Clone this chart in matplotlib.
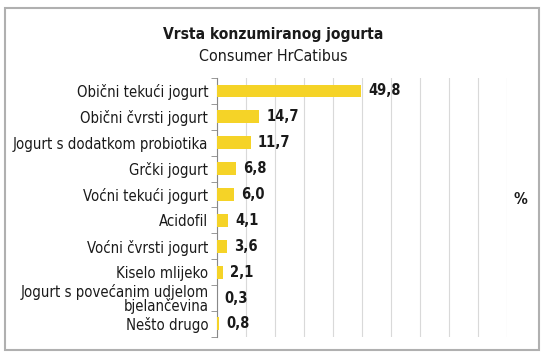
import matplotlib
matplotlib.use("Agg")
import matplotlib.pyplot as plt
from matplotlib.patches import Rectangle

# podaci
categories = [
    "Obični tekući jogurt",
    "Obični čvrsti jogurt",
    "Jogurt s dodatkom probiotika",
    "Grčki jogurt",
    "Voćni tekući jogurt",
    "Acidofil",
    "Voćni čvrsti jogurt",
    "Kiselo mlijeko",
    "Jogurt s povećanim udjelom\nbjelančevina",
    "Nešto drugo",
]
values = [49.8, 14.7, 11.7, 6.8, 6.0, 4.1, 3.6, 2.1, 0.3, 0.8]
value_labels = ["49,8", "14,7", "11,7", "6,8", "6,0", "4,1", "3,6", "2,1", "0,3", "0,8"]

plt.rcParams["font.family"] = ["DejaVu Sans"]
plt.rcParams["font.stretch"] = "condensed"

fig = plt.figure(figsize=(5.47, 3.63), dpi=100)
ax = fig.add_axes([0.396, 0.072, 0.53, 0.713])

y = list(range(len(categories)))
ax.barh(y, values, height=0.5, color="#F5D327", zorder=3)
for yi, v, lab in zip(y, values, value_labels):
    ax.text(v + 2.5, yi, lab, va="center", ha="left", fontsize=10.5,
            fontweight="bold", color="#1a1a1a", zorder=4)

ax.set_xlim(0, 100)
ax.set_ylim(len(categories) - 0.5, -0.5)
ax.set_xticks(range(0, 101, 10))
ax.tick_params(axis="x", length=0, labelbottom=False)
ax.grid(axis="x", color="#d9d9d9", linewidth=0.8, zorder=0)

ax.set_yticks(y)
ax.set_yticklabels(categories, fontsize=10.7, color="#1a1a1a", linespacing=0.85)
ax.set_yticks([i - 0.5 for i in range(len(categories) + 1)], minor=True)
ax.tick_params(axis="y", which="major", length=0, pad=6)
ax.tick_params(axis="y", which="minor", length=4, color="#888888")

for s in ["top", "right", "bottom"]:
    ax.spines[s].set_visible(False)
ax.spines["left"].set_color("#888888")

fig.text(0.5, 0.904, "Vrsta konzumiranog jogurta", ha="center", va="center",
         fontsize=11.2, fontweight="bold", color="#1a1a1a")
fig.text(0.5, 0.843, "Consumer HrCatibus", ha="center", va="center",
         fontsize=11.5, color="#1a1a1a")
fig.text(0.952, 0.45, "%", ha="center", va="center", fontsize=11,
         fontweight="bold", color="#1a1a1a")

fig.patches.append(Rectangle((0.009, 0.035), 0.977, 0.943, transform=fig.transFigure,
                             fill=False, edgecolor="#b0b0b0", linewidth=1.5))

fig.savefig("out.png", dpi=100)
